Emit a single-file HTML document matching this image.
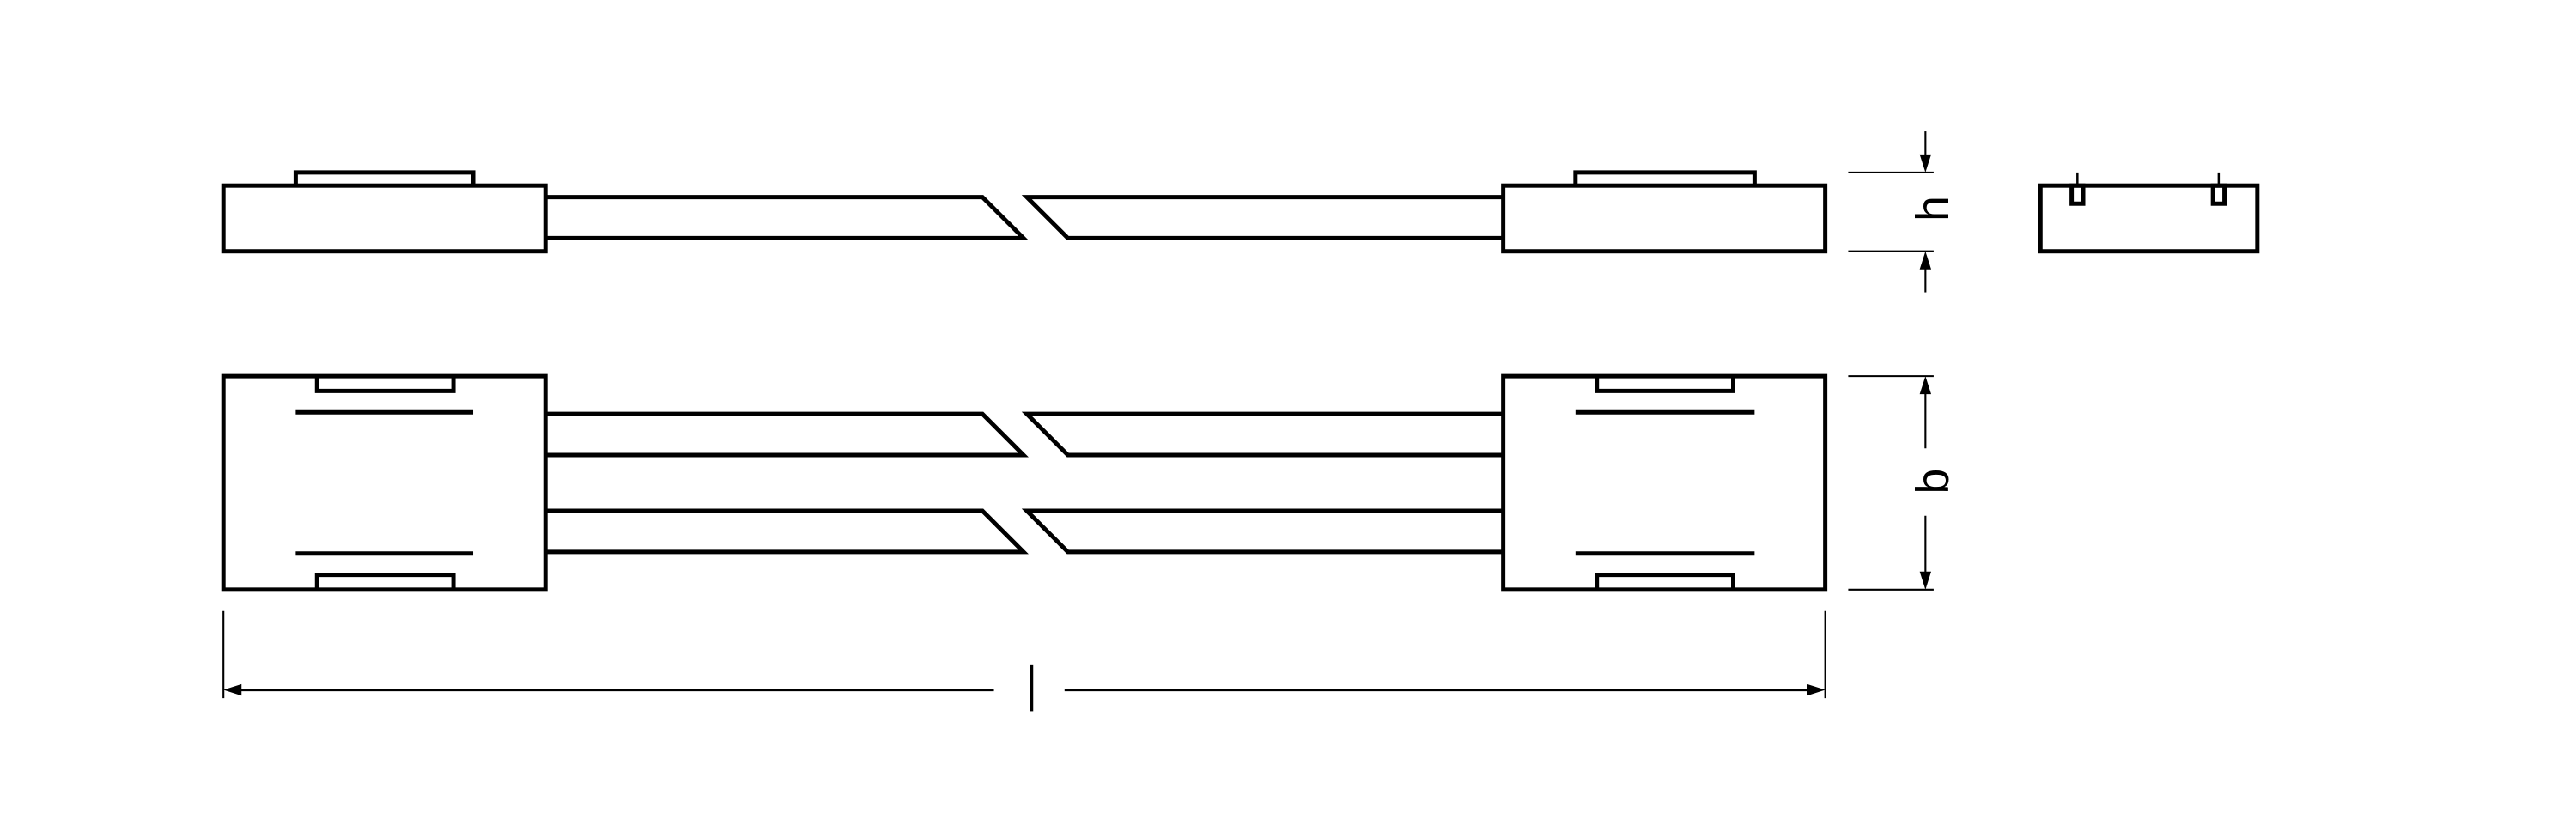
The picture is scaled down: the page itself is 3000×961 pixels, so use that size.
<!DOCTYPE html>
<html><head><meta charset="utf-8"><style>
html,body{margin:0;padding:0;background:#fff;}
svg{display:block;}
</style></head><body>
<svg width="3000" height="961" viewBox="0 0 1568 502.3" preserveAspectRatio="none" xmlns="http://www.w3.org/2000/svg">
<g fill="none" stroke="#000" stroke-width="2.6" stroke-linejoin="miter">
<!-- side view -->
<rect x="136" y="113" width="196" height="40"/>
<polyline points="180,113 180,105 288,105 288,113"/>
<polyline points="332,120 598,120 623,145 332,145"/>
<polyline points="915,120 625,120 650,145 915,145"/>
<rect x="915" y="113" width="196" height="40"/>
<polyline points="959,113 959,105 1068,105 1068,113"/>
<!-- end view -->
<rect x="1242" y="113" width="132" height="40"/>
<rect x="1261" y="113" width="7" height="11"/>
<rect x="1347" y="113" width="7" height="11"/>
<!-- bottom view -->
<rect x="136" y="229" width="196" height="130"/>
<polyline points="193,229 193,238 276,238 276,229"/>
<polyline points="193,359 193,350 276,350 276,359"/>
<line x1="180" y1="251" x2="288" y2="251"/>
<line x1="180" y1="337" x2="288" y2="337"/>
<polyline points="332,252 598,252 623,277 332,277"/>
<polyline points="332,311 598,311 623,336 332,336"/>
<polyline points="915,252 625,252 650,277 915,277"/>
<polyline points="915,311 625,311 650,336 915,336"/>
<rect x="915" y="229" width="196" height="130"/>
<polyline points="972,229 972,238 1055,238 1055,229"/>
<polyline points="972,359 972,350 1055,350 1055,359"/>
<line x1="959" y1="251" x2="1068" y2="251"/>
<line x1="959" y1="337" x2="1068" y2="337"/>
</g>
<g fill="none" stroke="#000" stroke-width="1.3">
<line x1="1264.5" y1="105" x2="1264.5" y2="113"/>
<line x1="1350.5" y1="105" x2="1350.5" y2="113"/>
</g>
<g fill="none" stroke="#000" stroke-width="1.1">
<line x1="1125" y1="105" x2="1177" y2="105"/>
<line x1="1125" y1="153" x2="1177" y2="153"/>
<line x1="1172" y1="80" x2="1172" y2="100"/>
<line x1="1172" y1="158" x2="1172" y2="178"/>
<line x1="1125" y1="229" x2="1177" y2="229"/>
<line x1="1125" y1="359" x2="1177" y2="359"/>
<line x1="1172" y1="234" x2="1172" y2="273"/>
<line x1="1172" y1="314" x2="1172" y2="354"/>
<line x1="136" y1="372" x2="136" y2="425"/>
<line x1="1111" y1="372" x2="1111" y2="425"/>
<line x1="141" y1="420" x2="605" y2="420" stroke-width="1.6"/>
<line x1="648" y1="420" x2="1106" y2="420" stroke-width="1.6"/>
</g>
<g fill="#000">
<polygon points="1168.5,94 1175.5,94 1172,105"/>
<polygon points="1168.5,164 1175.5,164 1172,153"/>
<polygon points="1168.5,240 1175.5,240 1172,229"/>
<polygon points="1168.5,348 1175.5,348 1172,359"/>
<polygon points="147,416.5 147,423.5 136,420"/>
<polygon points="1100,416.5 1100,423.5 1111,420"/>
</g>
<g font-family="Liberation Sans, sans-serif" font-size="28" fill="#000" text-anchor="middle">
<text transform="translate(1186,127) rotate(-90)">h</text>
<text transform="translate(1186,293) rotate(-90)">b</text>
</g>
<line x1="628" y1="405" x2="628" y2="433" stroke="#000" stroke-width="1.8"/>
</svg>
</body></html>
